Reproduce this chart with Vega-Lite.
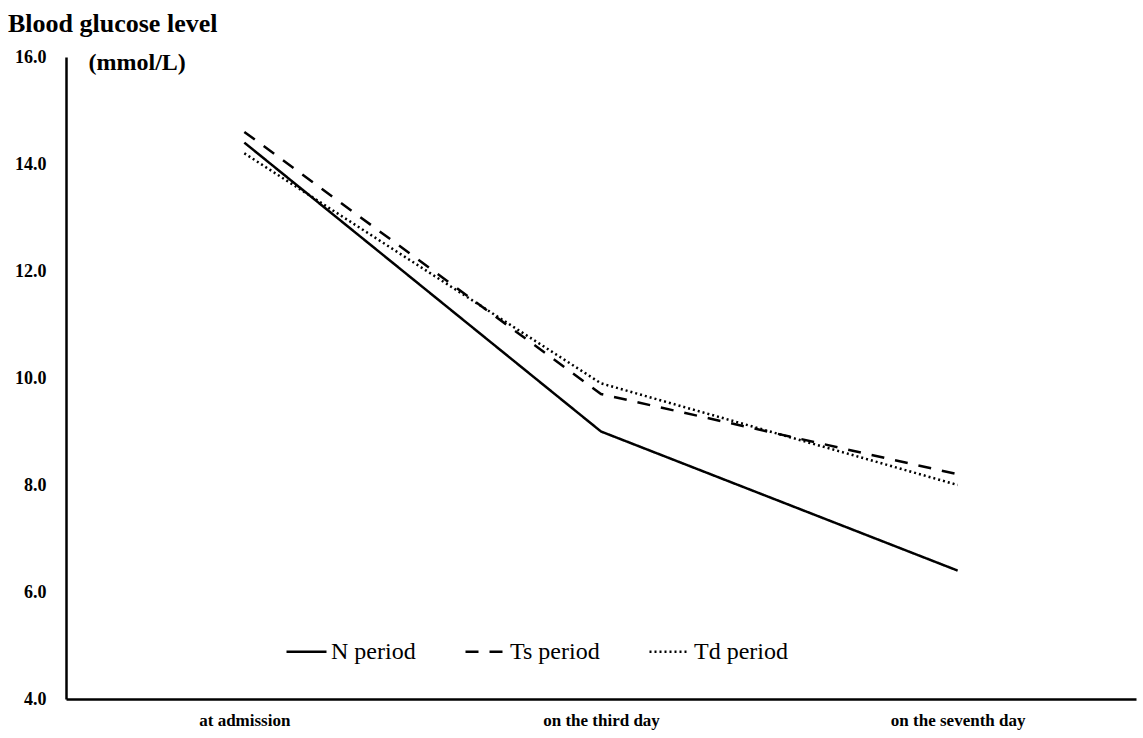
{
  "$schema": "https://vega.github.io/schema/vega-lite/v6.json",
  "autosize": "none",
  "width": 1070,
  "height": 642,
  "padding": {"left": 66, "top": 57, "right": 7, "bottom": 39},
  "background": "white",
  "title": {
    "text": "Blood glucose level",
    "anchor": "start",
    "frame": "group",
    "font": "Liberation Serif",
    "fontSize": 26,
    "fontWeight": "bold",
    "color": "black",
    "dx": -58,
    "dy": 15,
    "baseline": "bottom",
    "offset": 0
  },
  "data": {
    "values": [
      {"time": "at admission", "period": "N period", "glucose": 14.4},
      {"time": "on the third day", "period": "N period", "glucose": 9.0},
      {"time": "on the seventh day", "period": "N period", "glucose": 6.4},
      {"time": "at admission", "period": "Ts period", "glucose": 14.6},
      {"time": "on the third day", "period": "Ts period", "glucose": 9.7},
      {"time": "on the seventh day", "period": "Ts period", "glucose": 8.2},
      {"time": "at admission", "period": "Td period", "glucose": 14.2},
      {"time": "on the third day", "period": "Td period", "glucose": 9.9},
      {"time": "on the seventh day", "period": "Td period", "glucose": 8.0}
    ]
  },
  "mark": {"type": "line", "color": "black", "strokeWidth": 2.5},
  "encoding": {
    "x": {
      "field": "time",
      "type": "nominal",
      "sort": ["at admission", "on the third day", "on the seventh day"],
      "scale": {"type": "point", "padding": 0.5},
      "axis": {
        "title": null,
        "labelAngle": 0,
        "labelFont": "Liberation Serif",
        "labelFontSize": 17,
        "labelFontWeight": "bold",
        "labelColor": "black",
        "labelPadding": 13,
        "ticks": false,
        "domainColor": "black",
        "domainWidth": 2.5
      }
    },
    "y": {
      "field": "glucose",
      "type": "quantitative",
      "scale": {"domain": [4, 16], "nice": false, "zero": false},
      "axis": {
        "title": "(mmol/L)",
        "titleAngle": 0,
        "titleX": 22,
        "titleY": 5,
        "titleAlign": "left",
        "titleBaseline": "middle",
        "titleFont": "Liberation Serif",
        "titleFontSize": 24,
        "titleFontWeight": "bold",
        "titleColor": "black",
        "values": [4, 6, 8, 10, 12, 14, 16],
        "format": ".1f",
        "labelFont": "Liberation Serif",
        "labelFontSize": 18,
        "labelFontWeight": "bold",
        "labelColor": "black",
        "labelPadding": 20,
        "ticks": false,
        "grid": false,
        "domainColor": "black",
        "domainWidth": 2.5
      }
    },
    "strokeDash": {
      "field": "period",
      "type": "nominal",
      "sort": ["N period", "Ts period", "Td period"],
      "scale": {
        "domain": ["N period", "Ts period", "Td period"],
        "range": [[1, 0], [13, 11], [2, 3]]
      },
      "legend": {
        "title": null,
        "orient": "none",
        "direction": "horizontal",
        "legendX": 219,
        "legendY": 573,
        "symbolType": "stroke",
        "symbolSize": 1600,
        "symbolStrokeWidth": 2.5,
        "symbolStrokeColor": "black",
        "labelFont": "Liberation Serif",
        "labelFontSize": 24,
        "labelColor": "black",
        "labelOffset": 3,
        "columnPadding": 44
      }
    }
  },
  "config": {"view": {"stroke": null}}
}
